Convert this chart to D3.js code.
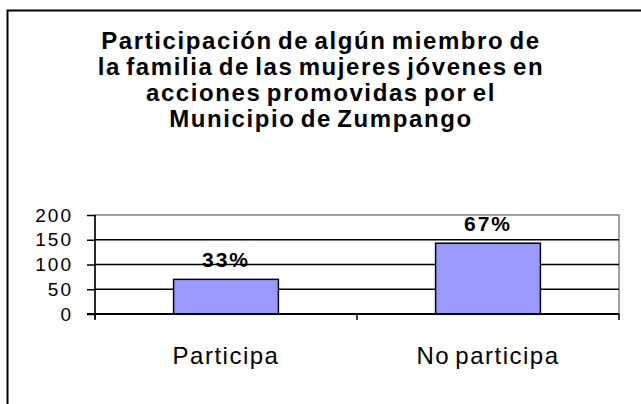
<!DOCTYPE html>
<html>
<head>
<meta charset="utf-8">
<script src="https://cdn.jsdelivr.net/npm/d3@7"></script>
<style>
  body { margin: 0; background: #fff; }
  text { font-family: "Liberation Sans", Arial, sans-serif; fill: #000; }
</style>
</head>
<body>
<script>
// chart data
const categories = ["Participa", "No participa"];
const values = [70, 143];
const percentLabels = ["33%", "67%"];
const yTicks = [0, 50, 100, 150, 200];
const titleLines = [
  "Participación de algún miembro de",
  "la familia de las mujeres jóvenes en",
  "acciones promovidas por el",
  "Municipio de Zumpango"
];

const width = 641, height = 404;
const margin = { top: 215, right: 22, bottom: 90, left: 95 };

const svg = d3.select("body").append("svg")
  .attr("width", width)
  .attr("height", height);

// outer chart border (cropped on right and bottom)
svg.append("rect")
  .attr("x", 7.5).attr("y", 10.5)
  .attr("width", 700).attr("height", 500)
  .attr("fill", "none")
  .attr("stroke", "#000")
  .attr("stroke-width", 2);

// title
svg.append("g")
  .selectAll("text")
  .data(titleLines)
  .join("text")
  .attr("x", 321)
  .attr("y", (d, i) => 49 + i * 26)
  .attr("text-anchor", "middle")
  .attr("font-size", 24)
  .attr("font-weight", "bold")
  .attr("letter-spacing", 1.6)
  .attr("word-spacing", -3)
  .text(d => d);

const x = d3.scaleBand()
  .domain(categories)
  .range([margin.left, width - margin.right])
  .paddingInner(0.6)
  .paddingOuter(0.3);

const y = d3.scaleLinear()
  .domain([0, 200])
  .range([height - margin.bottom, margin.top]);

// plot area border (gray)
svg.append("rect")
  .attr("x", margin.left).attr("y", margin.top)
  .attr("width", width - margin.right - margin.left)
  .attr("height", y(0) - margin.top)
  .attr("fill", "none")
  .attr("stroke", "#808080")
  .attr("stroke-width", 1.5);

// gridlines
svg.append("g")
  .selectAll("line")
  .data(yTicks.filter(d => d > 0 && d < 200))
  .join("line")
  .attr("x1", margin.left).attr("x2", width - margin.right)
  .attr("y1", d => y(d)).attr("y2", d => y(d))
  .attr("stroke", "#000")
  .attr("stroke-width", 1.5);

// bars
svg.append("g")
  .selectAll("rect")
  .data(values)
  .join("rect")
  .attr("x", (d, i) => x(categories[i]))
  .attr("y", d => y(d))
  .attr("width", x.bandwidth())
  .attr("height", d => y(0) - y(d))
  .attr("fill", "#9999ff")
  .attr("stroke", "#000")
  .attr("stroke-width", 1.5);

// value labels
svg.append("g")
  .selectAll("text")
  .data(values)
  .join("text")
  .attr("x", (d, i) => x(categories[i]) + x.bandwidth() / 2)
  .attr("y", d => y(d) - 12)
  .attr("text-anchor", "middle")
  .attr("font-size", 21)
  .attr("font-weight", "bold")
  .attr("letter-spacing", 2)
  .text((d, i) => percentLabels[i]);

// y axis
const yAxis = svg.append("g")
  .attr("transform", `translate(${margin.left},0)`)
  .call(d3.axisLeft(y).tickValues(yTicks).tickSize(8).tickPadding(14));
yAxis.select(".domain").attr("stroke", "#000").attr("stroke-width", 1.5)
  .attr("d", `M0,${margin.top}V${y(0) + 5}`);
yAxis.selectAll(".tick line").attr("stroke-width", 1.5);
yAxis.selectAll(".tick text")
  .attr("font-size", 19)
  .attr("letter-spacing", 2)
  .attr("font-family", "Liberation Sans, Arial, sans-serif");

// x axis line with boundary ticks
const xEdges = [margin.left, (margin.left + width - margin.right) / 2, width - margin.right];
svg.append("line")
  .attr("x1", margin.left - 8).attr("x2", width - margin.right)
  .attr("y1", y(0)).attr("y2", y(0))
  .attr("stroke", "#000").attr("stroke-width", 2);
svg.append("g")
  .selectAll("line")
  .data(xEdges)
  .join("line")
  .attr("x1", d => d).attr("x2", d => d)
  .attr("y1", y(0)).attr("y2", y(0) + 6)
  .attr("stroke", "#000").attr("stroke-width", 1.5);

// category labels
svg.append("g")
  .selectAll("text")
  .data(categories)
  .join("text")
  .attr("x", d => x(d) + x.bandwidth() / 2)
  .attr("y", 364)
  .attr("text-anchor", "middle")
  .attr("font-size", 24)
  .attr("letter-spacing", 1.5)
  .attr("word-spacing", -3)
  .text(d => d);
</script>
</body>
</html>
